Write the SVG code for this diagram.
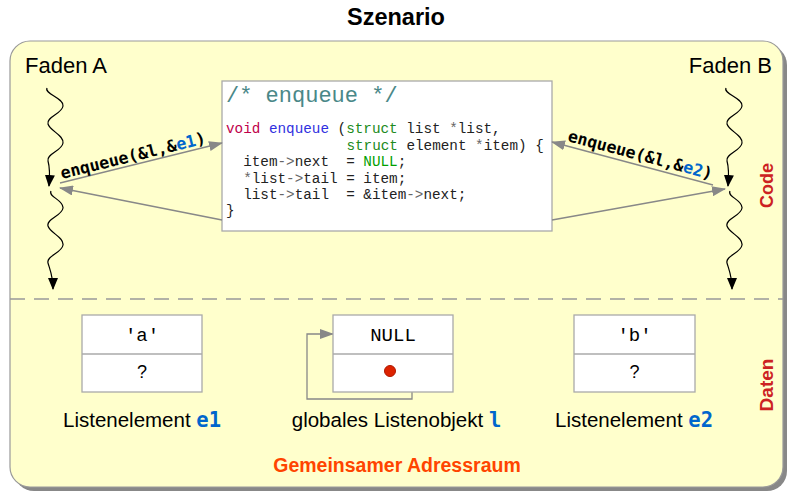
<svg xmlns="http://www.w3.org/2000/svg" width="796" height="493" viewBox="0 0 796 493">
<defs>
<style>
.sans{font-family:"Liberation Sans","Noto Sans",sans-serif}
.mono{font-family:"Liberation Mono","DejaVu Sans Mono",monospace}
.lblmono{font-family:"DejaVu Sans Mono","Liberation Mono",monospace;font-weight:bold}
.box{fill:#fff;stroke:#aaa;stroke-width:1.3}
.wave{fill:none;stroke:#000;stroke-width:1.2}
.gline{fill:none;stroke:#888;stroke-width:1.3}
.blue{fill:#0066cc}
.kw{fill:#c0004a}
.fn{fill:#3030e0}
.ty{fill:#208a20}
.nul{fill:#00a000}
.op{fill:#666}
</style>
<marker id="blk" viewBox="0 0 12 10" refX="11" refY="5" markerWidth="12" markerHeight="10" markerUnits="userSpaceOnUse" orient="auto">
<path d="M0,0 L12,5 L0,10 Z" fill="#000"/>
</marker>
<marker id="gry" viewBox="0 0 14 10" refX="13" refY="5" markerWidth="14" markerHeight="10" markerUnits="userSpaceOnUse" orient="auto">
<path d="M0,0 L14,5 L0,10 Z" fill="#888"/>
</marker>
</defs>

<text class="sans" x="396" y="25" font-size="23.5" font-weight="bold" text-anchor="middle" fill="#000">Szenario</text>

<g id="container">
<rect x="14" y="45" width="773" height="446" rx="20" fill="#888"/>
<rect x="10" y="41" width="773" height="446" rx="20" fill="#ffffcc" stroke="#999" stroke-width="1.2"/>
<line x1="10" y1="299" x2="783" y2="299" stroke="#999" stroke-width="1.3" stroke-dasharray="15 9"/>
<text class="sans" x="25" y="73" font-size="22" fill="#000">Faden A</text>
<text class="sans" x="772" y="73" font-size="22" fill="#000" text-anchor="end">Faden B</text>
<text class="sans" transform="translate(773,185.5) rotate(-90)" font-size="18" font-weight="bold" fill="#cc2222" text-anchor="middle">Code</text>
<text class="sans" transform="translate(773,385) rotate(-90)" font-size="19" font-weight="bold" fill="#cc2222" text-anchor="middle">Daten</text>
<text class="sans" x="397" y="472" font-size="19.5" font-weight="bold" fill="#ff4400" text-anchor="middle">Gemeinsamer Adressraum</text>
</g>

<g id="threadA">
<path class="wave" marker-end="url(#blk)" d="M47,88 C44,94 64,98 63,106 S46,117 48,124 S64,135 63,143 S46,154 48,161 S50,174 49,186"/>
<path class="wave" marker-end="url(#blk)" d="M51,191 C48,197 64,200 63,208 S46,219 48,226 S64,237 63,245 S46,256 48,263 S53,276 53,289"/>
</g>
<g id="threadB" transform="translate(679,0)">
<path class="wave" marker-end="url(#blk)" d="M47,88 C44,94 64,98 63,106 S46,117 48,124 S64,135 63,143 S46,154 48,161 S50,174 49,186"/>
<path class="wave" marker-end="url(#blk)" d="M51,191 C48,197 64,200 63,208 S46,219 48,226 S64,237 63,245 S46,256 48,263 S53,276 53,289"/>
</g>

<g id="code">
<rect x="222" y="81" width="330" height="150" fill="#fff" stroke="#aaa" stroke-width="1.3"/>
<text class="mono" x="226" y="102" font-size="22" fill="#4a8888">/* enqueue */</text>
<text class="mono" font-size="14.3" fill="#222" xml:space="preserve"><tspan x="226" y="133"><tspan class="kw">void</tspan> <tspan class="fn">enqueue</tspan> (<tspan class="ty">struct</tspan> list <tspan class="op">*</tspan>list,</tspan><tspan x="346.4" y="149.5"><tspan class="ty">struct</tspan> element <tspan class="op">*</tspan>item) {</tspan><tspan x="243.2" y="166">item<tspan class="op">-&gt;</tspan>next  = <tspan class="nul">NULL</tspan>;</tspan><tspan x="243.2" y="182.5"><tspan class="op">*</tspan>list<tspan class="op">-&gt;</tspan>tail = item;</tspan><tspan x="243.2" y="199">list<tspan class="op">-&gt;</tspan>tail  = &amp;item<tspan class="op">-&gt;</tspan>next;</tspan><tspan x="226" y="215">}</tspan></text>
</g>

<g id="connectors">
<line class="gline" x1="60" y1="183" x2="222" y2="143" marker-end="url(#gry)"/>
<line class="gline" x1="222" y1="220" x2="60" y2="188" marker-end="url(#gry)"/>
<line class="gline" x1="713" y1="185" x2="552" y2="142" marker-end="url(#gry)"/>
<line class="gline" x1="552" y1="220" x2="725" y2="189" marker-end="url(#gry)"/>
<path class="gline" d="M390,371 H412 V399 H307 V334 H333" marker-end="url(#gry)"/>
</g>

<g id="callLabels">
<text class="lblmono" transform="translate(62,179) rotate(-13.9)" font-size="16.5" fill="#000">enqueue(&amp;l,&amp;<tspan class="blue">e1</tspan>)</text>
<text class="lblmono" transform="translate(567,141) rotate(15)" font-size="16.5" fill="#000">enqueue(&amp;l,&amp;<tspan class="blue">e2</tspan>)</text>
</g>

<g id="e1">
<rect class="box" x="82" y="315" width="120" height="77"/>
<line x1="82" y1="354" x2="202" y2="354" stroke="#aaa" stroke-width="1.3"/>
<text class="mono" x="142" y="341" font-size="19" text-anchor="middle" fill="#000">'a'</text>
<text class="sans" x="142" y="378" font-size="18" text-anchor="middle" fill="#000">?</text>
<text class="sans" x="142" y="427" font-size="20.5" text-anchor="middle" fill="#000">Listenelement <tspan class="lblmono blue">e1</tspan></text>
</g>

<g id="l">
<rect class="box" x="333" y="315" width="120" height="77"/>
<line x1="333" y1="354" x2="453" y2="354" stroke="#aaa" stroke-width="1.3"/>
<text class="mono" x="393" y="341" font-size="19" text-anchor="middle" fill="#000">NULL</text>
<circle cx="390" cy="371" r="5.5" fill="#dd2200" stroke="#b01800" stroke-width="1"/>
<text class="sans" x="396.5" y="427" font-size="20.5" text-anchor="middle" fill="#000">globales Listenobjekt <tspan class="lblmono blue">l</tspan></text>
</g>

<g id="e2">
<rect class="box" x="574" y="315" width="121" height="77"/>
<line x1="574" y1="354" x2="695" y2="354" stroke="#aaa" stroke-width="1.3"/>
<text class="mono" x="634.5" y="341" font-size="19" text-anchor="middle" fill="#000">'b'</text>
<text class="sans" x="634.5" y="378" font-size="18" text-anchor="middle" fill="#000">?</text>
<text class="sans" x="634" y="427" font-size="20.5" text-anchor="middle" fill="#000">Listenelement <tspan class="lblmono blue">e2</tspan></text>
</g>
</svg>
